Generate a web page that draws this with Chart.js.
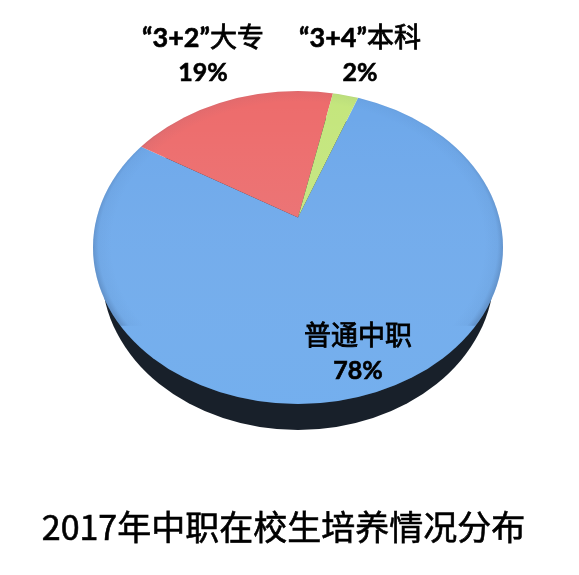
<!DOCTYPE html>
<html lang="zh">
<head>
<meta charset="utf-8">
<style>html,body{margin:0;padding:0;background:#fff}canvas{display:block}</style>
<script src="https://cdn.jsdelivr.net/npm/chart.js@4"></script>
</head>
<body>
<canvas id="c" width="579" height="575" style="width:579px;height:575px"></canvas>
<script>
const chartTitle = '2017年中职在校生培养情况分布';
const categories = ['普通中职', '“3+2”大专', '“3+4”本科'];
const shares = [78.4, 19.1, 2.3];
const sliceColors = ['#6ca7ea', '#ed6b6b', '#c4e67c'];
const percentLabels = ['78%', '19%', '2%'];

const disc = {cx: 298, cy: 247.5, rx: 205, ry: 156.5};
const apex = {x: 298, y: 217.5, sx: 1, sy: 0.71};
const base = {cx: 298, cy: 273, rx: 196, ry: 157, color: '#18202a'};
const labelSpots = [
  {x: 358, y1: 345, y2: 379},
  {x: 203, y1: 47, y2: 81},
  {x: 360, y1: 47, y2: 81}
];

function ellipsePath(ctx, e) {
  ctx.beginPath();
  ctx.ellipse(e.cx, e.cy, e.rx, e.ry, 0, 0, Math.PI * 2);
}

// Latin runs in bold Lato, CJK runs in a slightly thickened Noto Sans CJK
function mixedText(ctx, text, cx, y, size) {
  const isCjk = r => /[\u4e00-\u9fff]/.test(r);
  const runs = text.match(/[\u4e00-\u9fff]+|[^\u4e00-\u9fff]+/g);
  const fontOf = r => isCjk(r) ? `${size}px "Noto Sans CJK SC"` : `bold ${size}px Lato`;
  let total = 0;
  runs.forEach(r => { ctx.font = fontOf(r); total += ctx.measureText(r).width; });
  let x = cx - total / 2;
  ctx.textAlign = 'left';
  runs.forEach(r => {
    ctx.font = fontOf(r);
    ctx.fillText(r, x, y);
    ctx.lineWidth = isCjk(r) ? 0.8 : 0.6;
    ctx.strokeText(r, x, y);
    x += ctx.measureText(r).width;
  });
}

const tiltedDisc = {
  id: 'tiltedDisc',
  beforeDatasetsDraw(chart) {
    const ctx = chart.ctx, arc = chart.getDatasetMeta(0).data[0];
    ctx.save();
    ctx.fillStyle = base.color;
    ellipsePath(ctx, base);
    ctx.fill();
    ctx.restore();
    ctx.save();
    ellipsePath(ctx, disc);
    ctx.clip();
    ctx.translate(apex.x, apex.y);
    ctx.scale(apex.sx, apex.sy);
    ctx.translate(-arc.x, -arc.y);
  },
  afterDatasetsDraw(chart) {
    const ctx = chart.ctx;
    ctx.restore();
    ctx.save();
    ellipsePath(ctx, disc);
    ctx.clip();
    // gentle brightening toward the front of the disc
    const lin = ctx.createLinearGradient(0, disc.cy - disc.ry, 0, disc.cy + disc.ry);
    lin.addColorStop(0, 'rgba(255,255,255,0)');
    lin.addColorStop(1, 'rgba(150,210,255,0.18)');
    ctx.fillStyle = lin;
    ctx.fillRect(0, 0, chart.width, chart.height);
    // darker rim, fading out toward the front of the disc
    ctx.translate(disc.cx, disc.cy);
    ctx.scale(disc.rx, disc.ry);
    ctx.beginPath();
    ctx.rect(-1.1, -1.1, 2.2, 1.6);
    ctx.clip();
    const rim = ctx.createRadialGradient(0, -0.02, 0.91, 0, -0.02, 1);
    rim.addColorStop(0, 'rgba(50,80,120,0)');
    rim.addColorStop(0.7, 'rgba(50,80,120,0.05)');
    rim.addColorStop(1, 'rgba(40,60,95,0.22)');
    ctx.fillStyle = rim;
    ctx.fillRect(-1.1, -1.1, 2.2, 2.2);
    ctx.restore();
  },
  afterDraw(chart) {
    const ctx = chart.ctx;
    ctx.save();
    ctx.fillStyle = '#000';
    ctx.strokeStyle = '#000';
    ctx.textBaseline = 'alphabetic';
    categories.forEach((name, i) => {
      const s = labelSpots[i];
      mixedText(ctx, name, s.x, s.y1, 27);
      mixedText(ctx, percentLabels[i], s.x, s.y2, 25);
    });
    ctx.textAlign = 'center';
    ctx.font = '34px "Noto Sans CJK SC"';
    ctx.lineWidth = 0.6;
    ctx.fillText(chartTitle, 283.5, 540);
    ctx.strokeText(chartTitle, 283.5, 540);
    ctx.restore();
  }
};

new Chart(document.getElementById('c'), {
  type: 'pie',
  data: {
    labels: categories,
    datasets: [{
      data: shares,
      backgroundColor: sliceColors,
      borderWidth: 0,
      radius: 275,
      clip: false
    }]
  },
  options: {
    responsive: false,
    animation: false,
    rotation: 19.6,
    layout: {padding: 0},
    plugins: {legend: {display: false}, tooltip: {enabled: false}, title: {display: false}}
  },
  plugins: [tiltedDisc]
});
</script>
</body>
</html>
